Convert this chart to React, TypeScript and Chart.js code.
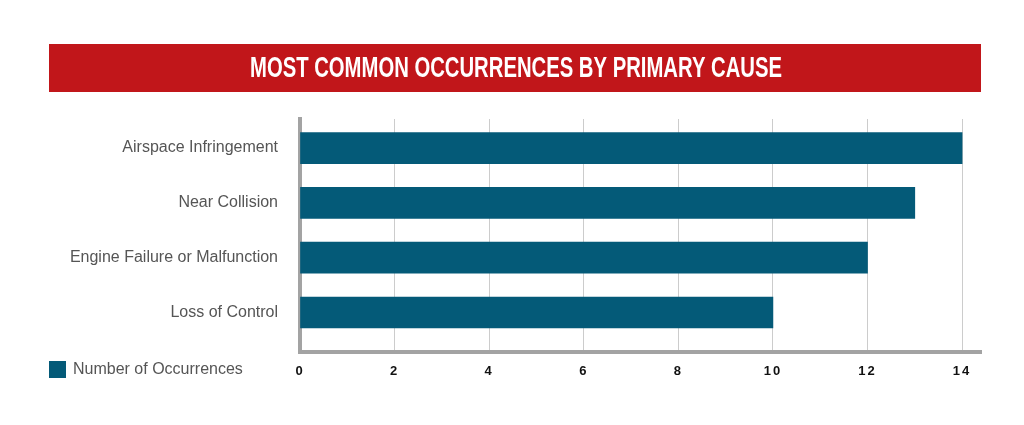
import React, { useEffect, useRef } from "react";
import { Chart, registerables } from "chart.js";

Chart.register(...registerables);

const titleText = "MOST COMMON OCCURRENCES BY PRIMARY CAUSE";
const categories = [
  "Airspace Infringement",
  "Near Collision",
  "Engine Failure or Malfunction",
  "Loss of Control",
];
const occurrences = [14, 13, 12, 10];
const seriesName = "Number of Occurrences";
const xTicks = [0, 2, 4, 6, 8, 10, 12, 14];

const BAR_COLOR = "#045a78";
const RED = "#c1161a";

const decorPlugin = {
  id: "decor",
  afterDraw(chart: any) {
    const ctx = chart.ctx as CanvasRenderingContext2D;
    ctx.save();
    // banner
    ctx.fillStyle = RED;
    ctx.fillRect(49, 44, 932, 48);
    ctx.fillStyle = "#ffffff";
    ctx.font = "bold 29px 'Liberation Sans Narrow', 'Liberation Sans', Arial, sans-serif";
    ctx.textBaseline = "middle";
    ctx.textAlign = "left";
    const w = ctx.measureText(titleText).width;
    const target = 532;
    const sx = target / w;
    ctx.translate(250, 69);
    ctx.scale(sx, 1);
    ctx.fillText(titleText, 0, 0);
    ctx.restore();

    // legend
    ctx.save();
    ctx.fillStyle = BAR_COLOR;
    ctx.fillRect(49, 361, 17, 17);
    ctx.fillStyle = "#555555";
    ctx.font = "16px 'Liberation Sans', Arial, sans-serif";
    ctx.textBaseline = "middle";
    ctx.textAlign = "left";
    ctx.fillText(seriesName, 73, 370);
    ctx.restore();
  },
};

export default function App() {
  const ref = useRef<HTMLCanvasElement | null>(null);
  useEffect(() => {
    if (!ref.current) return;
    const chart = new Chart(ref.current, {
      type: "bar",
      data: {
        datasets: [
          {
            label: seriesName,
            data: occurrences.map((v, i) => ({ x: v, y: i })),
            backgroundColor: BAR_COLOR,
            borderWidth: 0,
            barThickness: 31,
          },
        ],
      },
      options: {
        indexAxis: "y",
        animation: false,
        responsive: false,
        maintainAspectRatio: false,
        layout: { padding: { left: 0, right: 43, top: 119, bottom: 0 } },
        plugins: {
          legend: { display: false },
          tooltip: { enabled: false },
          title: { display: false },
        },
        scales: {
          x: {
            type: "linear",
            min: 0,
            max: 14.4,
            afterBuildTicks: (scale: any) => {
              scale.ticks = xTicks.map((v) => ({ value: v }));
            },
            afterFit: (scale: any) => {
              scale.height = 73;
              if (!scale._lsPatched) {
                const orig = scale.drawLabels;
                scale.drawLabels = function (area: any) {
                  const c = this.ctx;
                  c.save();
                  c.letterSpacing = "2px";
                  orig.call(this, area);
                  c.restore();
                };
                scale._lsPatched = true;
              }
            },
            grid: { color: "#cccccc", lineWidth: 1, drawTicks: false },
            border: { color: "#a3a3a3", width: 4 },
            ticks: {
              padding: 12,
              color: "#111111",
              font: { family: "'Liberation Sans', Arial, sans-serif", size: 13, weight: "bold" },
            },
          },
          y: {
            type: "linear",
            reverse: true,
            offset: false,
            min: -0.53,
            max: 3.72,
            afterBuildTicks: (scale: any) => {
              scale.ticks = categories.map((_, i) => ({ value: i }));
            },
            afterFit: (scale: any) => {
              scale.width = 300;
            },
            grid: { display: false, drawTicks: false },
            border: { color: "#a3a3a3", width: 4 },
            ticks: {
              padding: 22,
              color: "#555555",
              font: { family: "'Liberation Sans', Arial, sans-serif", size: 16 },
              callback: (v: any) => categories[v as number] ?? "",
            },
          },
        },
      },
      plugins: [decorPlugin],
    } as any);
    return () => chart.destroy();
  }, []);
  return (
    <div style={{ position: "fixed", left: 0, top: 0, width: 1024, height: 425, background: "#fff" }}>
      <canvas ref={ref} width={1024} height={425} style={{ display: "block", width: 1024, height: 425 }} />
    </div>
  );
}
